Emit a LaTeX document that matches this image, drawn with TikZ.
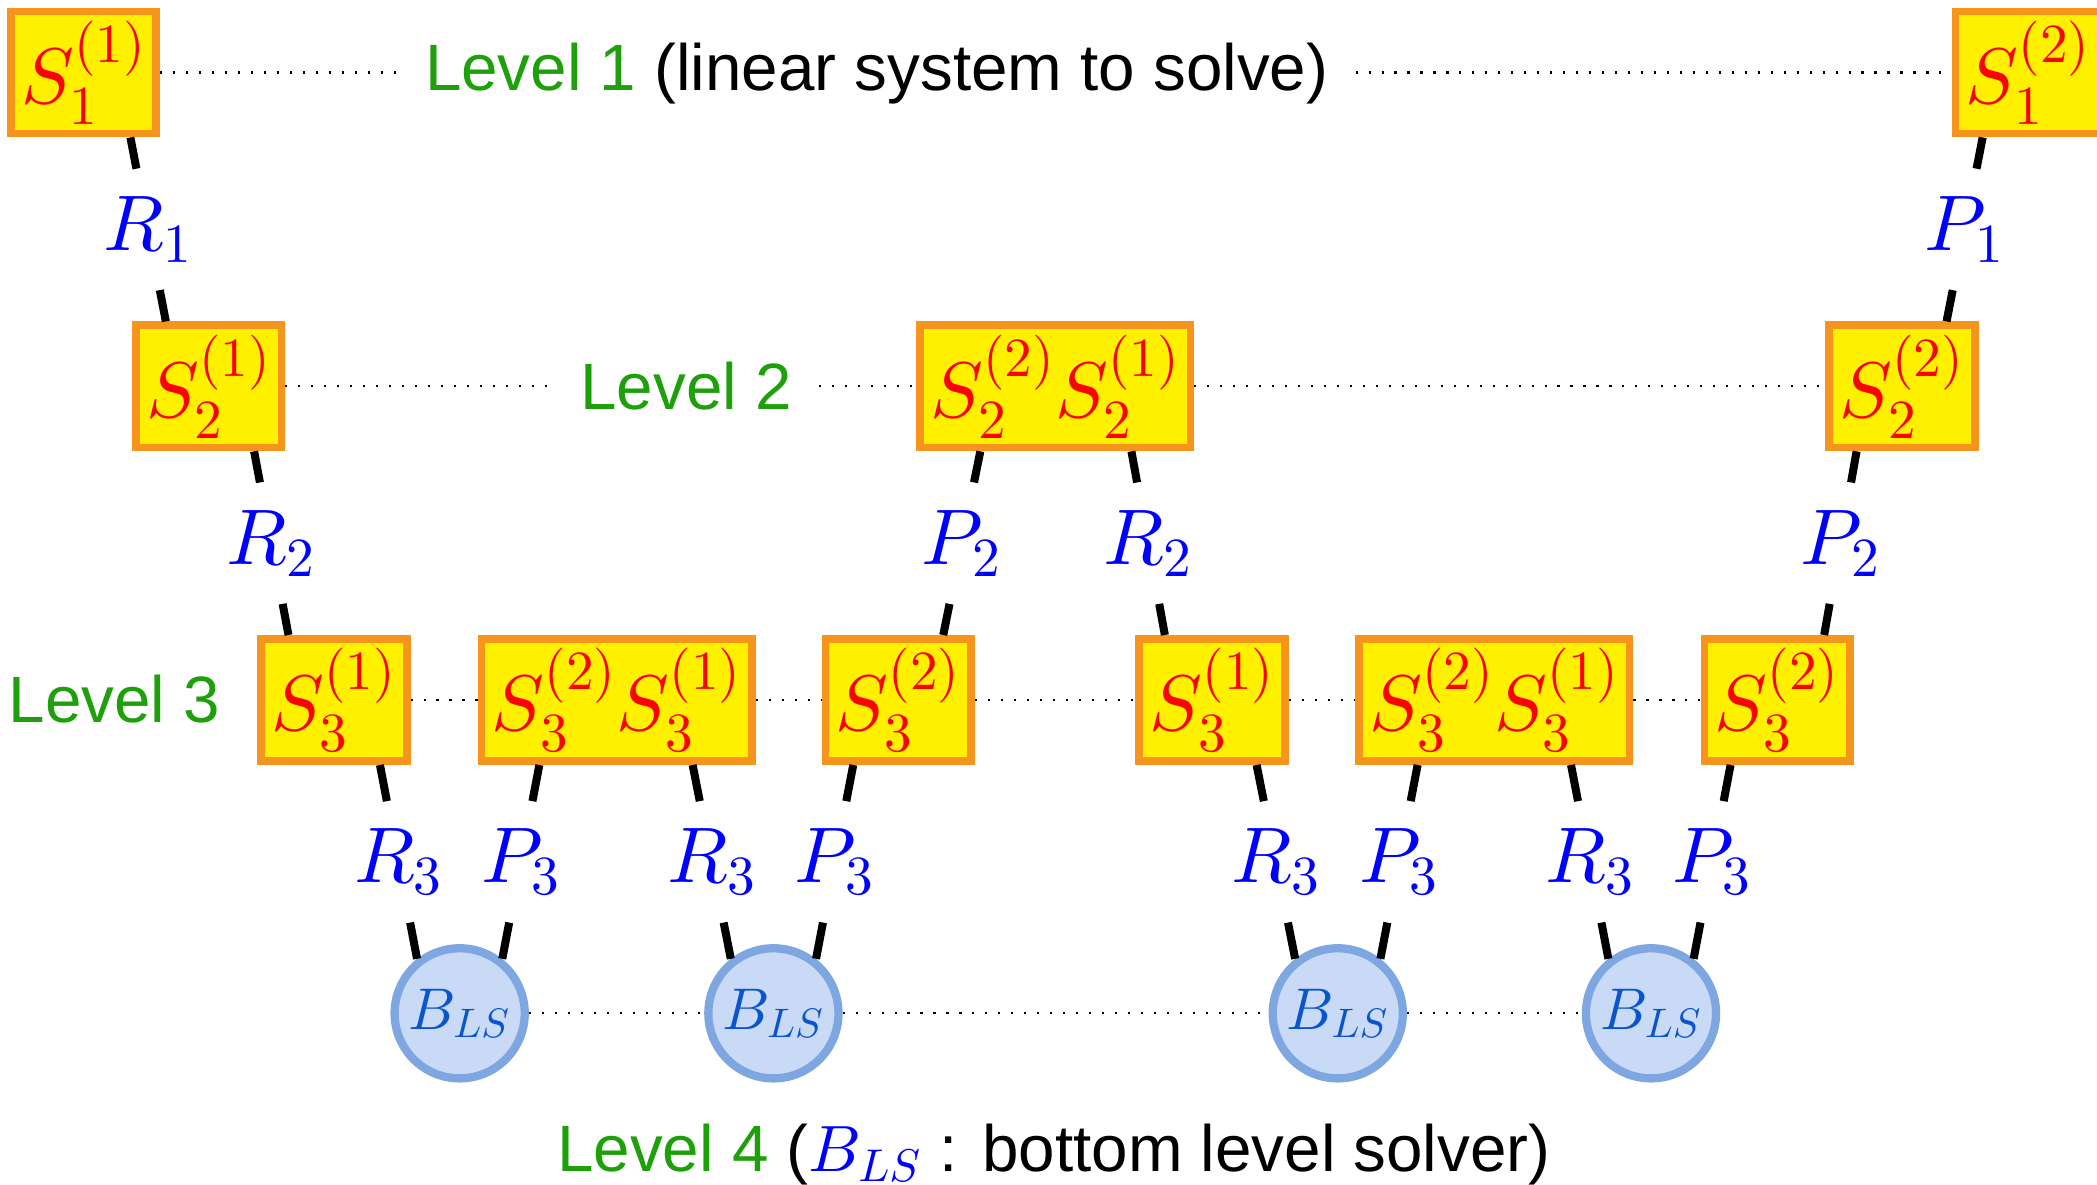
\documentclass[tikz,border=0pt]{standalone}
\usepackage[no-math]{fontspec}
\setmainfont{Liberation Sans}
\DeclareFontShape{OML}{cmm}{m}{it}{<->cmmi10}{}
\DeclareFontShape{OT1}{cmr}{m}{n}{<->cmr10}{}
\DeclareFontShape{OMS}{cmsy}{m}{n}{<->cmsy10}{}
\DeclareFontShape{OMX}{cmex}{m}{n}{<->cmex10}{}
\usetikzlibrary{calc}
\definecolor{boxyellow}{RGB}{255,240,0}
\definecolor{boxorange}{RGB}{247,148,29}
\definecolor{lvlgreen}{RGB}{30,160,10}
\definecolor{cfill}{RGB}{200,218,245}
\definecolor{cdraw}{RGB}{126,166,224}
\definecolor{ctext}{RGB}{10,85,205}
\newcommand{\linkvia}[4]{%
  \path ($(#1)!0.5!(#2)$) node[lab] (#3) {#4};
  \draw[conn] (#1) -- (#3) -- (#2);}
\begin{document}
\begin{tikzpicture}[x=0.5pt,y=-0.5pt,
  sbox/.style={draw=boxorange, fill=boxyellow, line width=2.875pt,
    minimum width=54.4pt, minimum height=45.7pt, inner sep=0pt,
    text=red, font=\fontsize{29.5}{32}\selectfont},
  wbox/.style={sbox, minimum width=101.1pt},
  bls/.style={circle, draw=cdraw, fill=cfill, line width=3.1pt,
    minimum size=48.65pt, inner sep=0pt, text=ctext,
    font=\fontsize{22}{24}\selectfont},
  lab/.style={text=blue, font=\fontsize{29.5}{32}\selectfont,
    minimum height=45pt, minimum width=20pt, inner sep=0pt},
  conn/.style={line width=3pt, black},
  dotline/.style={line width=0.8pt, dash pattern=on 0.8pt off 4.05pt},
  lvl/.style={font=\fontsize{24.5}{28}\selectfont, inner sep=10pt, anchor=base}]
\useasboundingbox (0,0) rectangle (1568,886);

% level 1
\node[sbox] (s11) at (62.5,54.2) {$S_1^{(1)}$};
\node[sbox] (s12) at (1516.5,54.2) {$S_1^{(2)}$};
\node[lvl] (lvl1) at (655.5,68) {\textcolor{lvlgreen}{Level 1} (linear system to solve)};

% level 2
\node[sbox] (s21) at (156,288.9) {$S_2^{(1)}$};
\node[wbox] (m2) at (789,288.9) {$S_2^{(2)}S_2^{(1)}$};
\node[sbox] (s22) at (1422.2,288.9) {$S_2^{(2)}$};
\node[lvl] (lvl2) at (513,306) {\textcolor{lvlgreen}{Level 2}};

% level 3
\node[lvl] (lvl3) at (85.5,540) {\textcolor{lvlgreen}{Level 3}};
\node[sbox] (s31) at (249.7,523.4) {$S_3^{(1)}$};
\node[wbox] (m32) at (461.1,523.4) {$S_3^{(2)}S_3^{(1)}$};
\node[sbox] (s33) at (671.7,523.4) {$S_3^{(2)}$};
\node[sbox] (s34) at (906.3,523.4) {$S_3^{(1)}$};
\node[wbox] (m35) at (1117.4,523.4) {$S_3^{(2)}S_3^{(1)}$};
\node[sbox] (s36) at (1329,523.4) {$S_3^{(2)}$};

% level 4
\node[bls] (b1) at (343.7,757.7) {$B_{LS}$};
\node[bls] (b2) at (578.3,757.7) {$B_{LS}$};
\node[bls] (b3) at (1000.3,757.7) {$B_{LS}$};
\node[bls] (b4) at (1234.5,757.7) {$B_{LS}$};
\node[lvl] (lvl4) at (788,876) {\textcolor{lvlgreen}{Level 4} (\textcolor{blue}{$B_{LS}$} : bottom level solver)};

% dotted level lines
\draw[dotline] (s11.east) -- (s11.east -| lvl1.west);
\draw[dotline] (s12.west -| lvl1.east) -- (s12.west);
\draw[dotline] (s21.east) -- (s21.east -| lvl2.west);
\draw[dotline] (m2.west -| lvl2.east) -- (m2.west);
\draw[dotline] (m2.east) -- (s22.west);
\draw[dotline] (s31.east) -- (m32.west);
\draw[dotline] (m32.east) -- (s33.west);
\draw[dotline] (s33.east) -- (s34.west);
\draw[dotline] (s34.east) -- (m35.west);
\draw[dotline] (m35.east) -- (s36.west);
\draw[dotline] (b1.east) -- (b2.west);
\draw[dotline] (b2.east) -- (b3.west);
\draw[dotline] (b3.east) -- (b4.west);

% connector end points
\coordinate (e1a) at ($(s11.south)+(35,0)$);
\coordinate (e1b) at ($(s21.north)+(-32,0)$);
\coordinate (e2a) at ($(s12.south)+(-34,0)$);
\coordinate (e2b) at ($(s22.north)+(33.3,0)$);
\coordinate (e3a) at ($(s21.south)+(34,0)$);
\coordinate (e3b) at ($(s31.north)+(-34,0)$);
\coordinate (e4a) at ($(m2.south)+(-56,0)$);
\coordinate (e4b) at ($(s33.north)+(33.6,0)$);
\coordinate (e5a) at ($(m2.south)+(57,0)$);
\coordinate (e5b) at ($(s34.north)+(-35.3,0)$);
\coordinate (e6a) at ($(s22.south)+(-34,0)$);
\coordinate (e6b) at ($(s36.north)+(35,0)$);
\coordinate (f1) at ($(s31.south)+(34.4,0)$);
\coordinate (f2) at ($(m32.south)+(-57.8,0)$);
\coordinate (f3) at ($(m32.south)+(56.8,0)$);
\coordinate (f4) at ($(s33.south)+(-33.7,0)$);
\coordinate (f5) at ($(s34.south)+(33.3,0)$);
\coordinate (f6) at ($(m35.south)+(-57.4,0)$);
\coordinate (f7) at ($(m35.south)+(57.3,0)$);
\coordinate (f8) at ($(s36.south)+(-35,0)$);

% connectors with labels
\linkvia{e1a}{e1b}{lr1}{$R_1$}
\linkvia{e2a}{e2b}{lp1}{$P_1$}
\linkvia{e3a}{e3b}{lr2a}{$R_2$}
\linkvia{e4a}{e4b}{lp2a}{$P_2$}
\linkvia{e5a}{e5b}{lr2b}{$R_2$}
\linkvia{e6a}{e6b}{lp2b}{$P_2$}
\linkvia{f1}{b1.128}{lr3a}{$R_3$}
\linkvia{f2}{b1.52}{lp3a}{$P_3$}
\linkvia{f3}{b2.128}{lr3b}{$R_3$}
\linkvia{f4}{b2.52}{lp3b}{$P_3$}
\linkvia{f5}{b3.128}{lr3c}{$R_3$}
\linkvia{f6}{b3.52}{lp3c}{$P_3$}
\linkvia{f7}{b4.128}{lr3d}{$R_3$}
\linkvia{f8}{b4.52}{lp3d}{$P_3$}
\end{tikzpicture}
\end{document}
